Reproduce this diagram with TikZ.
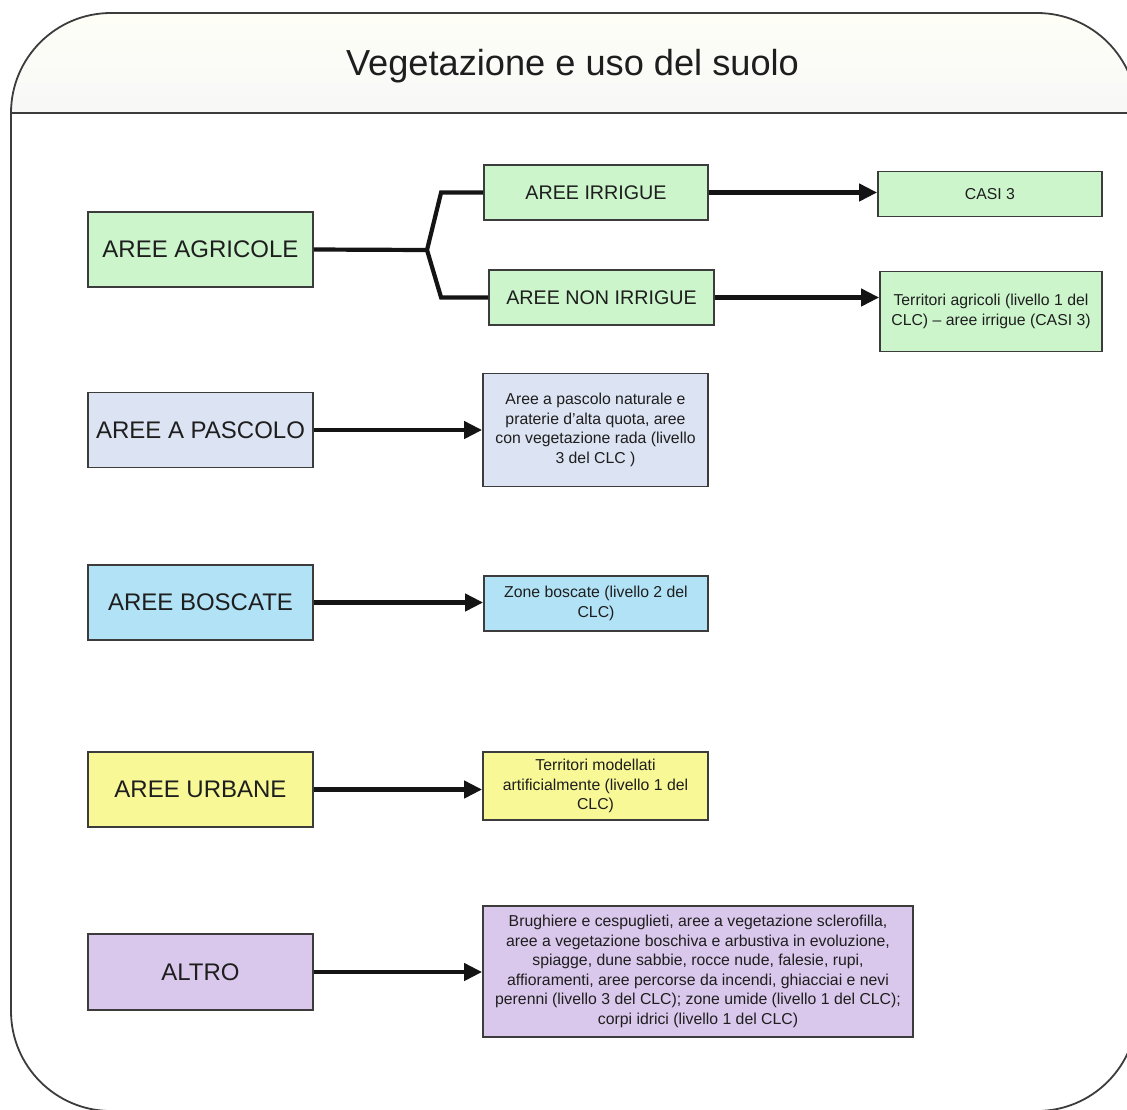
\documentclass[tikz,border=0pt]{standalone}
\usepackage{fontspec}
\setmainfont{Liberation Sans}
\usetikzlibrary{arrows.meta}
\definecolor{verde}{RGB}{204,245,204}
\definecolor{grigioblu}{RGB}{220,227,242}
\definecolor{azzurro}{RGB}{178,226,245}
\definecolor{giallo}{RGB}{248,248,150}
\definecolor{lilla}{RGB}{218,200,236}
\definecolor{bordo}{RGB}{60,60,60}
\definecolor{testo}{RGB}{30,30,30}

\begin{document}
\begin{tikzpicture}[x=1pt,y=-1pt,
  box/.style={draw=bordo,line width=1.8pt,text=testo,inner sep=2pt,align=center},
  big/.style={box,minimum width=225pt,minimum height=75pt,font=\fontsize{24}{28}\selectfont},
  mid/.style={box,minimum width=225pt,minimum height=55pt,font=\fontsize{19.7}{24}\selectfont},
  small/.style={box,font=\fontsize{15.8}{19.5}\selectfont},
  arrow/.style={line width=4.2pt,color=black!92,-{Triangle[length=18pt,width=17pt]}},
  branch/.style={line width=4.2pt,color=black!92}]
\useasboundingbox (0,0) rectangle (1127,1109);
\begin{scope}
\clip (0,0) rectangle (1127,1109);
\fill[white] (0,0) rectangle (1127,1109);
\shade[top color=black!9!yellow!3,bottom color=white!97!black]
  (11,113) .. controls (11,57.8) and (55.8,13) .. (111,13) -- (1037,13)
  .. controls (1092.2,13) and (1137,57.8) .. (1137,113) -- cycle;
\draw[bordo,line width=2.2pt] (11,113) -- (1137,113);
\draw[bordo,line width=1.8pt,rounded corners=100pt] (11,13) rectangle (1137,1111);
\end{scope}

\node[anchor=base,font=\fontsize{36.2}{40}\selectfont,text=testo] (title) at (572.5,75) {Vegetazione e uso del suolo};

% primo livello
\node[big,fill=verde] (agricole) at (200.5,249.5) {AREE AGRICOLE};
\node[big,fill=grigioblu] (pascolo) at (200.5,430) {AREE A PASCOLO};
\node[big,fill=azzurro] (boscate) at (200.5,602.5) {AREE BOSCATE};
\node[big,fill=giallo] (urbane) at (200.5,789.5) {AREE URBANE};
\node[big,fill=lilla,minimum height=76pt] (altro) at (200.5,972) {ALTRO};

% aree agricole
\node[mid,fill=verde,minimum width=224pt] (irrigue) at (596,192.5) {AREE IRRIGUE};
\node[mid,fill=verde] (nonirrigue) at (601.5,297.5) {AREE NON IRRIGUE};
\node[small,fill=verde,minimum width=224pt,minimum height=45pt] (casi) at (990,194) {CASI 3};
\node[small,fill=verde,minimum width=222pt,minimum height=80pt] (agricoli) at (991,311.5)
  {Territori agricoli (livello 1 del\\CLC) -- aree irrigue (CASI 3)};

% descrizioni
\node[small,fill=grigioblu,minimum width=225pt,minimum height=113pt] (pascolotxt) at (595.5,430)
  {Aree a pascolo naturale e\\praterie d'alta quota, aree\\con vegetazione rada (livello\\3 del CLC )};
\node[small,fill=azzurro,minimum width=224pt,minimum height=55pt] (boscatetxt) at (596,603.5)
  {Zone boscate (livello 2 del\\CLC)};
\node[small,fill=giallo,minimum width=225pt,minimum height=68pt] (urbanetxt) at (595.5,786)
  {Territori modellati\\artificialmente (livello 1 del\\CLC)};
\node[small,fill=lilla,minimum width=430pt,minimum height=131pt] (altrotxt) at (698,971.5)
  {Brughiere e cespuglieti, aree a vegetazione sclerofilla,\\aree a vegetazione boschiva e arbustiva in evoluzione,\\spiagge, dune sabbie, rocce nude, falesie, rupi,\\affioramenti, aree percorse da incendi, ghiacciai e nevi\\perenni (livello 3 del CLC); zone umide (livello 1 del CLC);\\corpi idrici (livello 1 del CLC)};

% diramazione
\coordinate (fork) at (427,250);
\draw[branch] (agricole.east) -- (fork) -- ([xshift=-42pt]irrigue.west) -- (irrigue.west);
\draw[branch] (fork) -- ([xshift=-47pt]nonirrigue.west) -- (nonirrigue.west);

% frecce
\draw[arrow] (irrigue.east) -- (irrigue.east -| casi.west);
\draw[arrow] (nonirrigue.east) -- (nonirrigue.east -| agricoli.west);
\draw[arrow] (pascolo.east) -- (pascolo.east -| pascolotxt.west);
\draw[arrow] (boscate.east) -- (boscate.east -| boscatetxt.west);
\draw[arrow] (urbane.east) -- (urbane.east -| urbanetxt.west);
\draw[arrow] (altro.east) -- (altro.east -| altrotxt.west);
\end{tikzpicture}
\end{document}
